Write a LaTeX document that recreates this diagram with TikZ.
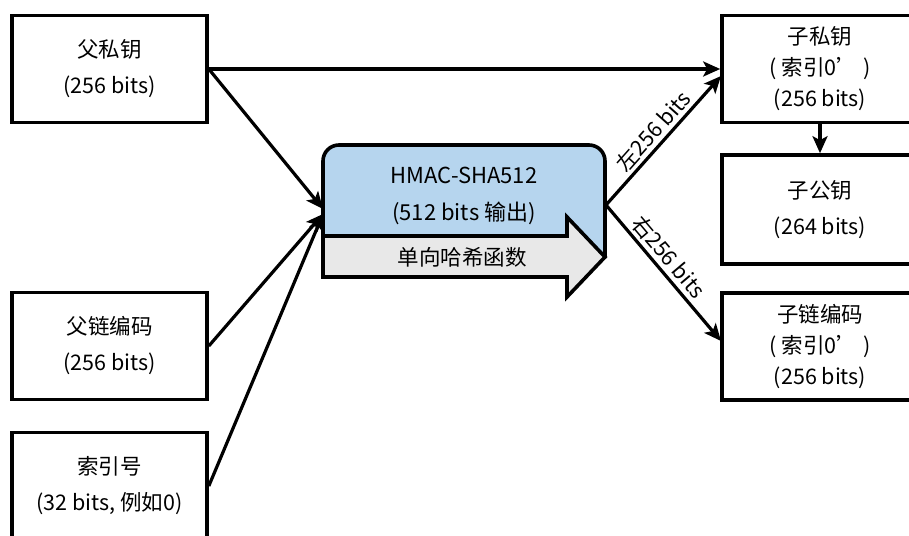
\documentclass[tikz,border=0pt]{standalone}
\usepackage{fontspec}
\setmainfont{Noto Sans CJK SC}
\usetikzlibrary{arrows.meta}
\definecolor{hblue}{RGB}{182,213,238}
\definecolor{hgray}{RGB}{232,232,232}
\begin{document}
\begin{tikzpicture}[x=1pt,y=-1pt,
  box/.style={draw,line width=3.6pt,minimum width=195pt,minimum height=107pt,align=center,inner sep=0pt,font=\fontsize{21.5}{36}\selectfont},
  box3/.style={box,font=\fontsize{21.5}{31}\selectfont},
  arr/.style={line width=3.2pt,-{Stealth[length=17pt,width=15pt,inset=4pt]}},
  lbl/.style={font=\fontsize{21.5}{22}\selectfont,inner sep=3pt}]
\useasboundingbox (0,0) rectangle (909,535);
\clip (0,0) rectangle (909,535);
% left boxes
\node[box] (fsk) at (109.5,69) {父私钥\\(256 bits)};
\node[box] (fcc) at (109.5,346) {父链编码\\(256 bits)};
\node[box] (idx) at (109.5,486) {索引号\\(32 bits, 例如0)};
% right boxes
\node[box3,minimum width=196pt] (csk) at (820,69) {子私钥\\( 索引0’ )\\(256 bits)};
\node[box,minimum width=196pt,minimum height=109pt] (cpk) at (820,209.5) {子公钥\\(264 bits)};
\node[box3,minimum width=196pt] (ccc) at (820,346.5) {子链编码\\( 索引0’ )\\(256 bits)};
% HMAC block
\draw[line width=3.6pt,fill=hblue,rounded corners=16pt] (323,240) -- (323,145) -- (605,145) -- (605,258);
\draw[line width=3.6pt,fill=hgray,line join=miter] (323,236) -- (567,236) -- (567,217) -- (605,257) -- (567,297) -- (567,277) -- (323,277) -- cycle;
\node[font=\fontsize{22}{37}\selectfont,align=center] (hmac) at (464,196) {HMAC-SHA512\\(512 bits 输出)};
\node[font=\fontsize{21.5}{22}\selectfont] (oneway) at (462,257) {单向哈希函数};
% connector points
\coordinate (in1) at (323,209);
\coordinate (in2) at (323,214);
\coordinate (out) at (606,205);
\coordinate (t1) at (721,76);
\coordinate (t2) at (721,341);
% connectors
\draw[arr] (fsk.east) -- (csk.west);
\draw[arr] (fsk.east) -- (in1);
\draw[arr] (fcc.east) -- (in2);
\draw[arr] (idx.east) -- (in2);
\draw[arr] (out) -- node[sloped,above,lbl,pos=0.5] {左256 bits} (t1);
\draw[arr] (out) -- node[sloped,above,lbl,pos=0.45] {右256 bits} (t2);
\draw[arr] (csk.south) -- (cpk.north);
\end{tikzpicture}
\end{document}
